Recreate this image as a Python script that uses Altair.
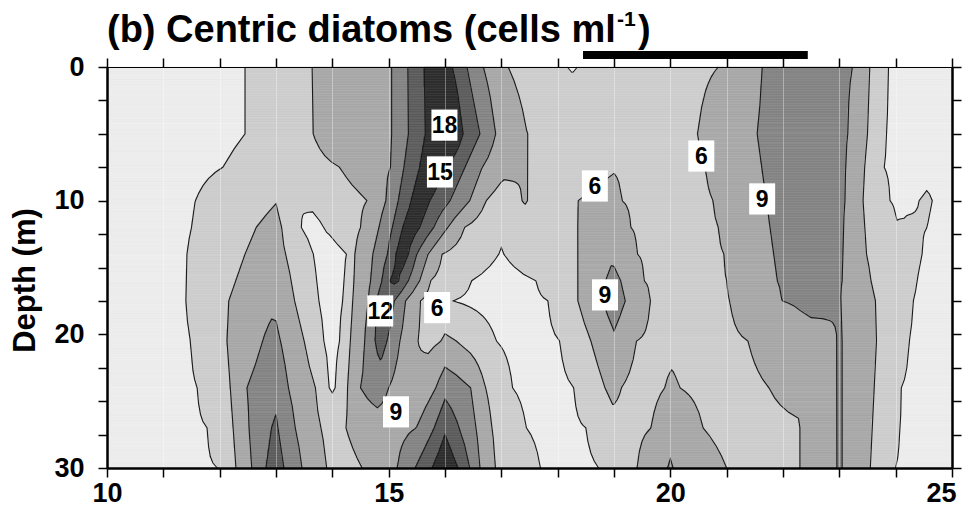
import numpy as np
import pandas as pd
import altair as alt

# ---------------- values ----------------
levels = [3, 6, 9, 12, 15, 18]
band_grays = ["#ececec", "#cdcdcd", "#a8a8a8", "#848484", "#5c5c5c", "#2e2e2e", "#161616"]

row_depths = [0, 5, 7.5, 10, 12, 14, 16, 17.5, 20.5, 24, 27, 30]

x_d00 = [10, 12.0, 12.45, 13.64, 15.06, 15.34, 15.63, 15.88, 16.13, 16.39, 16.68, 17.12, 17.7, 18.17, 18.26, 18.35, 19.6, 20.85, 21.63, 22.4, 23.24, 23.54, 23.87, 24.4, 25]
v_d00 = [1.5, 2.2, 3, 6, 9, 12, 15, 17, 15, 12, 9, 6, 4.2, 3, 2.8, 3, 4.8, 6, 9, 11, 9, 6, 3, 1.5, 1.5]

x_d05 = [10, 12.0, 12.45, 13.66, 15.06, 15.35, 15.65, 15.85, 16.0, 16.15, 16.32, 16.62, 16.9, 17.46, 18.5, 19.6, 20.49, 21.54, 22.4, 23.15, 23.5, 23.83, 24.4, 25]
v_d05 = [1.5, 2.2, 3, 6, 9, 12, 15, 18, 19, 18, 15, 12, 9, 6, 4.8, 5.3, 6, 9, 11, 9, 6, 3, 1.5, 1.5]

x_d07 = [10, 11, 12.06, 13.0, 14.13, 15.04, 15.27, 15.55, 15.78, 15.98, 16.36, 16.66, 17.0, 17.46, 18.3, 19.0, 19.8, 20.62, 21.62, 22.4, 23.12, 23.45, 23.79, 24.4, 24.7, 25]
v_d07 = [1.5, 2, 3, 5.0, 6, 9, 12, 15, 17.5, 15, 12, 9, 7, 6, 4.8, 5.8, 5, 6, 9, 11, 9, 6, 3, 2, 2.6, 1.5]

x_d10 = [10, 11, 11.57, 12.3, 13.0, 13.43, 14.0, 14.62, 14.95, 15.17, 15.40, 15.57, 15.73, 16.09, 16.44, 16.73, 17.05, 17.37, 17.42, 17.46, 17.9, 18.36, 19.0, 19.14, 20.0, 20.76, 21.7, 22.4, 23.1, 23.42, 23.9, 24.15, 24.42, 24.55, 24.65, 25]
v_d10 = [1.5, 2, 3, 4.5, 5.9, 3.0, 4.5, 6, 9, 12, 15, 17, 15, 12, 9, 6, 4.5, 6, 6.3, 6, 4.6, 6, 6.9, 6, 5, 6, 9, 11, 9, 6, 3, 2.7, 3, 3.3, 3, 1.5]

x_d12 = [10, 11, 11.5, 12.65, 13.0, 13.1, 13.45, 13.65, 13.85, 14.5, 14.83, 15.07, 15.25, 15.4, 15.55, 15.8, 16.05, 16.35, 16.8, 17.0, 17.4, 18.36, 18.95, 19.3, 20.1, 20.85, 21.77, 22.4, 23.08, 23.45, 23.95, 24.02, 24.2, 24.56, 25]
v_d12 = [1.5, 2, 3, 6, 6.8, 6, 3, 2.2, 3, 6, 9, 12, 15, 16.6, 15, 12, 9, 6, 4, 3.3, 4.2, 6, 7.8, 6, 5, 6, 9, 10.8, 9, 6, 3.3, 3.05, 3.2, 3, 1.5]

x_d14 = [10, 11, 11.42, 12.45, 12.9, 13.17, 13.66, 13.95, 14.25, 14.40, 14.72, 14.98, 15.13, 15.24, 15.35, 15.5, 15.7, 15.95, 16.5, 17.0, 17.5, 18.36, 18.95, 19.41, 20.2, 20.95, 21.83, 22.4, 23.07, 23.48, 24.0, 24.47, 25]
v_d14 = [1.5, 2, 3, 6, 7.3, 6, 3, 1.8, 3, 6, 9, 12, 15, 16.5, 15, 12, 9, 6, 4, 2.9, 4, 6, 8.6, 6, 5, 6, 9, 10.5, 9, 6, 4, 3, 1.5]

x_d16 = [10, 11, 11.41, 12.28, 13.0, 13.27, 13.72, 13.97, 14.22, 14.38, 14.68, 14.88, 15.02, 15.1, 15.18, 15.35, 15.55, 15.74, 16.1, 16.47, 17.0, 17.62, 18.36, 18.85, 19.0, 19.12, 19.53, 20.2, 21.0, 21.9, 22.4, 23.05, 23.56, 24.38, 25]
v_d16 = [1.5, 2, 3, 6, 8.0, 6, 3, 1.9, 3, 6, 9, 12, 15, 15.6, 15, 12, 9, 6, 4.5, 3, 2.3, 3, 6, 9, 9.8, 9, 6, 5, 6, 9, 9.8, 9, 6, 3, 1.5]

x_d17 = [10, 11, 11.40, 12.16, 13.0, 13.33, 13.76, 13.98, 14.19, 14.36, 14.64, 14.78, 14.95, 15.1, 15.3, 15.56, 15.85, 16.14, 17.0, 17.83, 18.36, 18.8, 19.0, 19.2, 19.64, 20.3, 21.06, 21.98, 22.5, 23.03, 23.64, 24.31, 25]
v_d17 = [1.5, 2, 3, 6, 8.6, 6, 3, 2.0, 3, 6, 9, 12, 14.6, 12, 9, 6, 4.5, 3, 2, 3, 6, 9, 10.5, 9, 6, 5, 6, 9, 9.3, 9, 6, 3, 1.5]

x_d20 = [10, 11, 11.48, 12.13, 12.76, 12.92, 13.08, 13.5, 13.85, 14.0, 14.13, 14.32, 14.57, 14.76, 14.86, 14.97, 15.2, 15.52, 15.7, 15.93, 16.0, 16.2, 16.91, 17.4, 18.04, 18.59, 19.0, 19.4, 20.2, 21.38, 22.3, 22.96, 23.0, 23.05, 23.66, 24.24, 25]
v_d20 = [1.5, 2, 3, 6, 9, 9.8, 9, 6, 3, 2.3, 3, 6, 9, 12, 13.5, 12, 9, 6, 5.3, 6, 6.5, 6, 3, 2, 3, 6, 8.5, 6, 5, 6, 8.4, 9, 9.2, 9, 6, 3, 1.5]

x_d24 = [10, 11, 11.6, 12.19, 12.48, 13.0, 13.22, 13.7, 13.94, 14.0, 14.05, 14.27, 14.5, 14.8, 15.0, 15.47, 15.84, 16.0, 16.46, 16.72, 17.2, 17.7, 18.29, 18.84, 18.98, 19.13, 19.5, 19.9, 20.03, 20.17, 21.0, 21.75, 22.4, 22.96, 23.0, 23.05, 23.62, 24.1, 25]
v_d24 = [1.5, 2, 3, 6, 9, 11, 9, 6, 3, 2.7, 3, 6, 9, 10.3, 9, 6.05, 9, 11, 9, 6, 3, 2, 3, 6, 6.8, 6, 5, 6, 6.5, 6, 5, 6, 8, 9, 9.2, 9, 6, 3, 1.5]

x_d27 = [10, 11, 11.78, 12.24, 12.52, 12.92, 13.0, 13.03, 13.34, 13.8, 14.05, 14.24, 14.6, 15.1, 15.49, 15.81, 16.0, 16.25, 16.55, 16.83, 17.44, 17.9, 18.5, 19.0, 19.66, 20.0, 20.58, 21.3, 22.28, 22.3, 22.6, 22.96, 23.0, 23.05, 23.58, 24.07, 25]
v_d27 = [1.5, 2, 3, 6, 9, 12, 12.5, 12, 9, 6, 4.8, 6, 7.5, 8, 9, 12, 14.5, 12, 9, 6, 3, 2.3, 3, 5, 6, 8, 6, 4.5, 5.5, 6, 8, 9, 9.2, 9, 6, 3, 1.5]

x_d30 = [10, 11, 11.97, 12.29, 12.57, 12.82, 13.0, 13.14, 13.46, 13.9, 14.2, 14.53, 14.99, 15.15, 15.47, 15.77, 16.0, 16.23, 16.44, 16.62, 16.89, 17.69, 18.2, 18.73, 19.41, 19.95, 20.0, 20.05, 21.0, 21.6, 22.28, 22.3, 22.6, 22.96, 23.0, 23.05, 23.55, 23.99, 25]
v_d30 = [1.5, 2, 3, 6, 9, 12, 13.5, 12, 9, 6, 5, 6, 8.7, 9, 12, 15, 17.5, 15, 12, 9, 6, 3, 2.2, 3, 6, 9, 9.3, 9, 6, 4.5, 5.8, 6, 8, 9, 9.2, 9, 6, 3, 1.5]

rows_x = [x_d00, x_d05, x_d07, x_d10, x_d12, x_d14, x_d16, x_d17, x_d20, x_d24, x_d27, x_d30]
rows_v = [v_d00, v_d05, v_d07, v_d10, v_d12, v_d14, v_d16, v_d17, v_d20, v_d24, v_d27, v_d30]

label_x = [15.99, 15.91, 18.66, 20.55, 21.63, 14.85, 15.86, 18.84, 15.13]
label_d = [4.35, 7.85, 8.9, 6.66, 9.87, 18.25, 18.0, 17.05, 25.8]
label_txt = ["18", "15", "6", "6", "9", "12", "6", "9", "9"]

night_start = [18.45]
night_end = [22.44]

x_tick_values = list(range(10, 26))
y_tick_values = [i * 2.5 for i in range(13)]

title_main = "(b) Centric diatoms (cells ml"
title_sup = "-1"
title_close = ")"

# ---------------- contour field (linear between read rows) ----------------
W, H = 845, 401
SX, SY = W / 15.0, H / 30.0
gx = np.linspace(10, 25, 601)
gd = np.linspace(0, 30, 241)
P = np.array([np.interp(gx, xr, vr) for xr, vr in zip(rows_x, rows_v)])
rd = np.array(row_depths, dtype=float)
F = np.empty((gd.size, gx.size))
for k, d in enumerate(gd):
    j = min(int(np.searchsorted(rd, d, side="right")) - 1, len(rd) - 2)
    t = (d - rd[j]) / (rd[j + 1] - rd[j])
    F[k] = (1 - t) * P[j] + t * P[j + 1]

C = 0.25 * (F[:-1, :-1] + F[:-1, 1:] + F[1:, :-1] + F[1:, 1:])
bands = np.digitize(C, levels)
recs = []
for k in range(bands.shape[0]):
    row = bands[k]
    s = 0
    for i in range(1, row.size + 1):
        if i == row.size or row[i] != row[s]:
            recs.append((gx[s], gx[i], gd[k], gd[k + 1], int(row[s])))
            s = i
fill_df = pd.DataFrame(recs, columns=["x0", "x1", "d0", "d1", "band"])


def contour_paths(level):
    B = F >= level
    case = (B[:-1, :-1] * 1 + B[:-1, 1:] * 2 + B[1:, 1:] * 4 + B[1:, :-1] * 8)
    js, iis = np.nonzero((case > 0) & (case < 15))
    pts, adj = {}, {}

    def edge_pt(key):
        if key in pts:
            return
        kind, j, i = key
        if kind == "h":
            a, b = F[j, i], F[j, i + 1]
            t = (level - a) / (b - a)
            pts[key] = (gx[i] + t * (gx[i + 1] - gx[i]), gd[j])
        else:
            a, b = F[j, i], F[j + 1, i]
            t = (level - a) / (b - a)
            pts[key] = (gx[i], gd[j] + t * (gd[j + 1] - gd[j]))

    def link(k1, k2):
        edge_pt(k1)
        edge_pt(k2)
        adj.setdefault(k1, []).append(k2)
        adj.setdefault(k2, []).append(k1)

    for j, i in zip(js, iis):
        c = case[j, i]
        e0, e1, e2, e3 = ("h", j, i), ("v", j, i + 1), ("h", j + 1, i), ("v", j, i)
        if c in (5, 10):
            centre = 0.25 * (F[j, i] + F[j, i + 1] + F[j + 1, i] + F[j + 1, i + 1]) >= level
            if (c == 5) == centre:
                link(e0, e1); link(e2, e3)
            else:
                link(e3, e0); link(e1, e2)
        else:
            cr = []
            if B[j, i] != B[j, i + 1]: cr.append(e0)
            if B[j, i + 1] != B[j + 1, i + 1]: cr.append(e1)
            if B[j + 1, i] != B[j + 1, i + 1]: cr.append(e2)
            if B[j, i] != B[j + 1, i]: cr.append(e3)
            link(cr[0], cr[1])

    seen, paths = set(), []
    starts = [k for k in adj if len(adj[k]) == 1] + [k for k in adj if len(adj[k]) != 1]
    for s in starts:
        if s in seen:
            continue
        path = [s]
        seen.add(s)
        prev, cur = None, s
        while True:
            nxt = None
            for n in adj[cur]:
                if n != prev and n not in seen:
                    nxt = n
                    break
            if nxt is None:
                if len(path) > 2 and s in adj[cur]:
                    path.append(s)
                break
            path.append(nxt)
            seen.add(nxt)
            prev, cur = cur, nxt
        paths.append([pts[k] for k in path])
    return paths


def simplify(pl, eps=0.3):
    A = np.array([((x - 10) * SX, d * SY) for x, d in pl])
    keep = np.zeros(len(A), bool)
    keep[0] = keep[-1] = True
    stack = [(0, len(A) - 1)]
    while stack:
        a, b = stack.pop()
        if b <= a + 1:
            continue
        seg = A[b] - A[a]
        L = np.hypot(seg[0], seg[1])
        rel = A[a + 1:b] - A[a]
        if L == 0:
            dist = np.hypot(rel[:, 0], rel[:, 1])
        else:
            dist = np.abs(seg[0] * rel[:, 1] - seg[1] * rel[:, 0]) / L
        m = int(np.argmax(dist))
        if dist[m] > eps:
            idx = a + 1 + m
            keep[idx] = True
            stack += [(a, idx), (idx, b)]
    return [pl[i] for i in np.nonzero(keep)[0]]


line_rows = []
lid = 0
for lev in levels:
    for pl in contour_paths(lev):
        if len(pl) < 2:
            continue
        for k, (x, d) in enumerate(simplify(pl)):
            line_rows.append((x, d, lid, k))
        lid += 1
line_df = pd.DataFrame(line_rows, columns=["x", "d", "lid", "k"])

label_df = pd.DataFrame({"x": label_x, "d": label_d, "t": label_txt})
night_df = pd.DataFrame({"x": night_start, "x2": night_end})

# ---------------- chart ----------------
FONT = "Liberation Sans"
xs = alt.Scale(domain=[10, 25], nice=False, zero=False)
ys = alt.Scale(domain=[0, 30], reverse=True, nice=False, zero=False)

x_axis_bottom = alt.Axis(
    values=x_tick_values, labelExpr="datum.value % 5 === 0 ? datum.label : ''",
    orient="bottom", tickSize=9, tickWidth=1.5, tickColor="black",
    domainColor="black", domainWidth=2.5, labelFont=FONT, labelFontWeight="bold",
    labelFontSize=27, labelColor="black", labelPadding=3, labelFlush=False,
    labelOffset={"condition": {"test": "datum.value === 25", "value": -11}, "value": 0},
    labelOverlap=False, grid=True, gridColor="white", gridOpacity=0.35, title=None, zindex=1)
y_axis_left = alt.Axis(
    values=y_tick_values, labelExpr="datum.value % 10 === 0 ? datum.label : ''",
    orient="left", tickSize=9, tickWidth=1.5, tickColor="black",
    domainColor="black", domainWidth=2.5, labelFont=FONT, labelFontWeight="bold",
    labelFontSize=27, labelColor="black", labelPadding=14, labelOverlap=False,
    labelFlush=False, grid=False, title="Depth (m)", titleFont=FONT, titleFontWeight="bold",
    titleFontSize=31, titleColor="black", titleX=-82, titleY=213, titleAngle=270,
    titleAlign="center", titleBaseline="middle", zindex=1)
x_axis_top = alt.Axis(values=x_tick_values, orient="top", labels=False, tickSize=9,
                      tickWidth=1.5, tickColor="black", domainColor="black", domainWidth=1.2,
                      grid=False, title=None, zindex=1)
y_axis_right = alt.Axis(values=y_tick_values, orient="right", labels=False, tickSize=9,
                        tickWidth=1.5, tickColor="black", domainColor="black", domainWidth=2.5,
                        grid=False, title=None, zindex=1)

band_scale = alt.Scale(domain=list(range(7)), range=band_grays)

fill = alt.Chart(fill_df).mark_rect(strokeWidth=0.6).encode(
    x=alt.X("x0:Q", scale=xs, axis=x_axis_bottom),
    x2="x1:Q",
    y=alt.Y("d0:Q", scale=ys, axis=y_axis_left),
    y2="d1:Q",
    color=alt.Color("band:O", scale=band_scale, legend=None),
    stroke=alt.Stroke("band:O", scale=band_scale, legend=None),
)

lines = alt.Chart(line_df).mark_line(color="#1a1a1a", strokeWidth=1.1).encode(
    x=alt.X("x:Q", scale=xs, axis=None),
    y=alt.Y("d:Q", scale=ys, axis=None),
    detail="lid:N",
    order=alt.Order("k:Q"),
)

boxes = alt.Chart(label_df).mark_point(
    shape="M-1,-1.2H1V1.2H-1Z", size=676, filled=True, fill="white", opacity=1, strokeWidth=0
).encode(
    x=alt.X("x:Q", scale=xs, axis=x_axis_top),
    y=alt.Y("d:Q", scale=ys, axis=y_axis_right),
)

texts = alt.Chart(label_df).mark_text(
    font=FONT, fontWeight="bold", fontSize=23, color="black", align="center", baseline="middle", dy=1
).encode(
    x=alt.X("x:Q", scale=xs, axis=None),
    y=alt.Y("d:Q", scale=ys, axis=None),
    text="t:N",
)

night = alt.Chart(night_df).mark_rule(color="black", strokeWidth=8, strokeCap="butt").encode(
    x=alt.X("x:Q", scale=xs, axis=None),
    x2="x2:Q",
    y=alt.value(-12),
)

t_main = alt.Chart(pd.DataFrame({"t": [title_main]})).mark_text(
    font=FONT, fontWeight="bold", fontSize=38, color="black", align="left", baseline="alphabetic"
).encode(text="t:N", x=alt.value(0), y=alt.value(-25))
t_sup = alt.Chart(pd.DataFrame({"t": [title_sup]})).mark_text(
    font=FONT, fontWeight="bold", fontSize=21, color="black", align="left", baseline="alphabetic"
).encode(text="t:N", x=alt.value(510), y=alt.value(-41))
t_close = alt.Chart(pd.DataFrame({"t": [title_close]})).mark_text(
    font=FONT, fontWeight="bold", fontSize=38, color="black", align="left", baseline="alphabetic"
).encode(text="t:N", x=alt.value(531), y=alt.value(-25))

chart = alt.layer(fill, lines, boxes, texts, night, t_main, t_sup, t_close).resolve_axis(
    x="independent", y="independent"
).properties(
    width=W, height=H,
    padding={"left": 107, "top": 67, "right": 11, "bottom": 43},
    autosize=alt.AutoSizeParams(type="none"),
).configure_view(stroke=None)

chart.save("out.html", embed_options={"renderer": "svg", "actions": False})
